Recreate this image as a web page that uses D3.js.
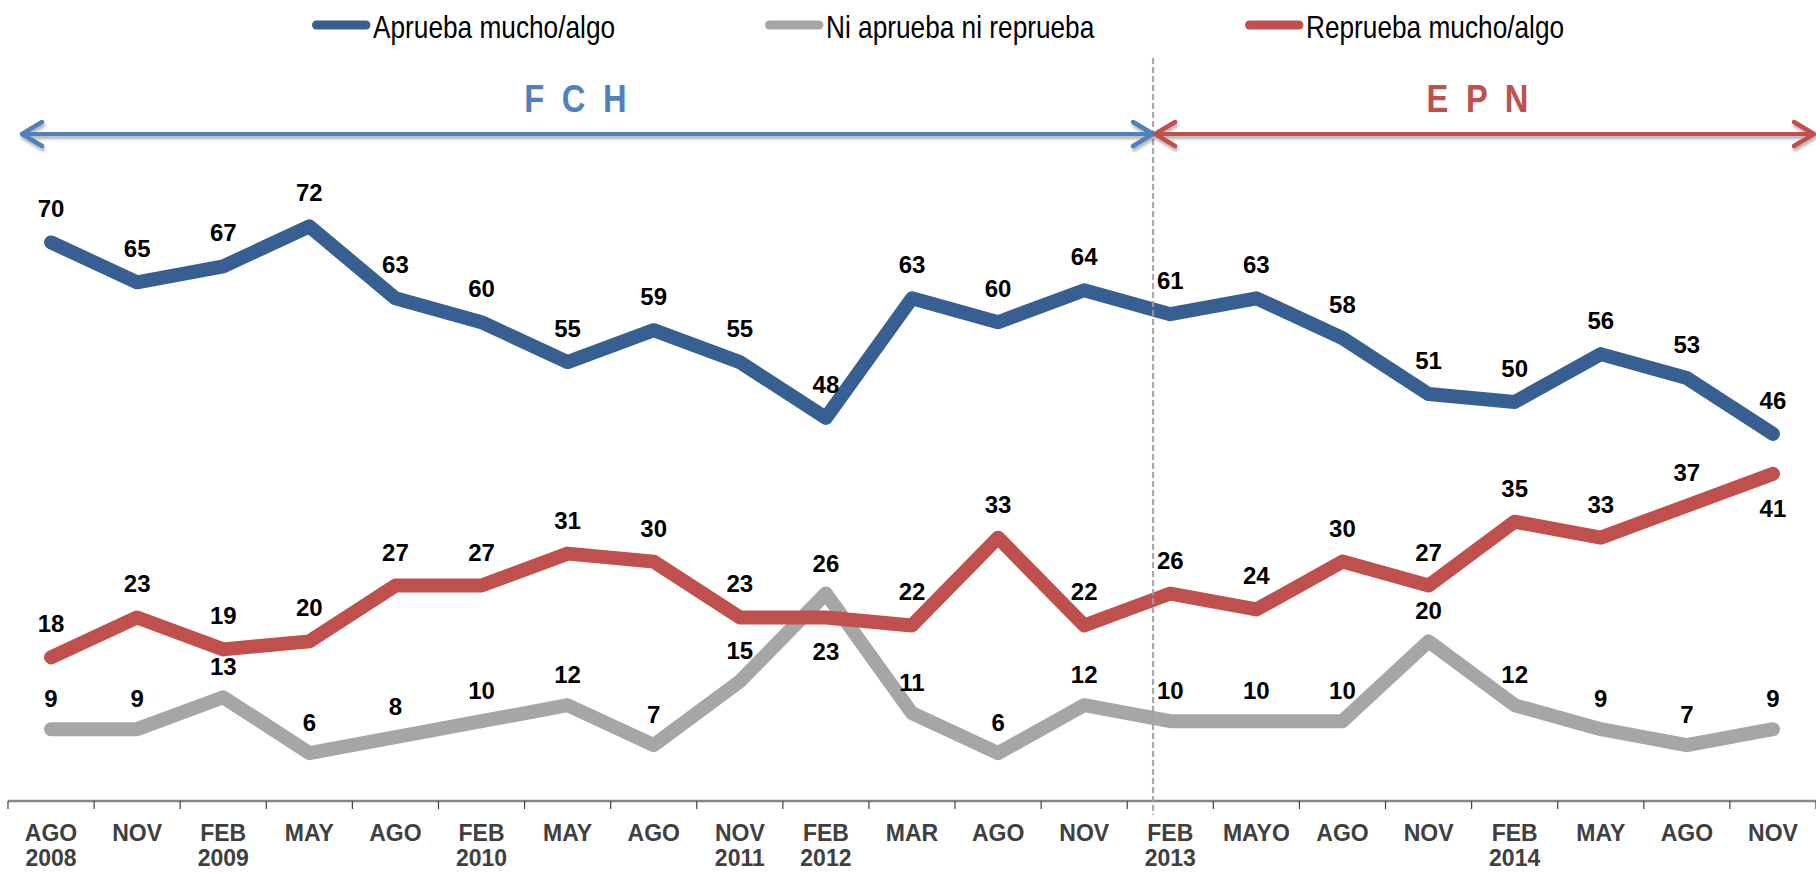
<!DOCTYPE html>
<html>
<head>
<meta charset="utf-8">
<script src="https://cdn.jsdelivr.net/npm/d3@7"></script>
<style>
  html, body { margin: 0; padding: 0; background: #fff; }
  svg { display: block; }
</style>
</head>
<body>
<svg id="chart" width="1816" height="872"></svg>
<script>
// ---------- data ----------
const categories = ["AGO 2008","NOV","FEB 2009","MAY","AGO","FEB 2010","MAY","AGO","NOV 2011","FEB 2012","MAR","AGO","NOV","FEB 2013","MAYO","AGO","NOV","FEB 2014","MAY","AGO","NOV"];
const aprueba   = [70,65,67,72,63,60,55,59,55,48,63,60,64,61,63,58,51,50,56,53,46];
const niNi      = [9,9,13,6,8,10,12,7,15,26,11,6,12,10,10,10,20,12,9,7,9];
const reprueba  = [18,23,19,20,27,27,31,30,23,23,22,33,22,26,24,30,27,35,33,37,41];
const seriesNames = ["Aprueba mucho/algo","Ni aprueba ni reprueba","Reprueba mucho/algo"];
const periods = ["F C H","E P N"];
const periodStart = 13; // index of FEB 2013
// label placement (below the point) for Reprueba
const repruebaBelow = [9, 20];

// ---------- setup ----------
const svg = d3.select("#chart");
const colors = ["#375F92", "#A6A6A6", "#C0504D"];
const arrowColors = ["#4F81BD", "#C0504D"];
const narrow = 0.82;

const x = d3.scaleBand().domain(d3.range(categories.length)).range([8, 1816]).padding(0);
const cx = i => x(i) + x.bandwidth() / 2;
const y = d3.scaleLinear().domain([0, 100]).range([801, 3]);

const defs = svg.append("defs");
const sh = defs.append("filter").attr("id", "shadow").attr("x", "-5%").attr("y", "-100%").attr("width", "110%").attr("height", "300%");
sh.append("feDropShadow").attr("dx", 1).attr("dy", 3).attr("stdDeviation", 1.6).attr("flood-color", "#000").attr("flood-opacity", 0.3);

// ---------- x axis ----------
const axisY = y(0);
const axisG = svg.append("g");
axisG.append("line")
  .attr("x1", x.range()[0]).attr("x2", x.range()[1])
  .attr("y1", axisY).attr("y2", axisY)
  .attr("stroke", "#868686").attr("stroke-width", 2.5);
const tickPos = d3.range(categories.length + 1).map(i => x.range()[0] + i * x.step());
axisG.selectAll("line.tick").data(tickPos).join("line").attr("class", "tick")
  .attr("x1", d => d).attr("x2", d => d)
  .attr("y1", axisY).attr("y2", axisY + 8)
  .attr("stroke", "#404040").attr("stroke-width", 1.2);
const lab = axisG.selectAll("text.cat").data(categories).join("text").attr("class", "cat")
  .attr("x", (d, i) => cx(i))
  .attr("text-anchor", "middle")
  .style("font-family", "'Liberation Sans', Arial, sans-serif")
  .style("font-weight", "bold")
  .style("font-size", "23px")
  .attr("fill", "#404040");
lab.each(function(d, i) {
  const parts = d.split(" ");
  const t = d3.select(this);
  t.append("tspan").attr("x", cx(i)).attr("y", 841).text(parts[0]);
  if (parts[1]) t.append("tspan").attr("x", cx(i)).attr("y", 866).text(parts[1]);
});

// ---------- lines ----------
const allSeries = [aprueba, niNi, reprueba];
const lineGen = d3.line().x((d, i) => cx(i)).y(d => y(d));
svg.append("g").selectAll("path").data(allSeries).join("path")
  .attr("d", d => lineGen(d))
  .attr("fill", "none")
  .attr("stroke", (d, i) => colors[i])
  .attr("stroke-width", 14)
  .attr("stroke-linejoin", "round")
  .attr("stroke-linecap", "round");

// ---------- divider ----------
const divX = cx(periodStart) - x.step() * 0.2;
svg.append("line")
  .attr("x1", divX).attr("x2", divX)
  .attr("y1", 58).attr("y2", axisY + 14)
  .attr("stroke", "#A0A0A0").attr("stroke-width", 2.2)
  .attr("stroke-dasharray", "6,3").attr("opacity", 0.9);

// ---------- data labels ----------
const labelG = svg.append("g")
  .style("font-family", "'Liberation Sans', Arial, sans-serif")
  .style("font-weight", "bold")
  .style("font-size", "24px")
  .attr("fill", "#000")
  .attr("text-anchor", "middle");
allSeries.forEach((s, si) => {
  labelG.selectAll(null).data(s).join("text")
    .attr("x", (d, i) => cx(i))
    .attr("y", (d, i) => {
      if (si === 2 && repruebaBelow.includes(i)) return y(d) + 43;
      return y(d) - (si === 1 ? 22 : 25);
    })
    .text(d => d);
});

// ---------- period arrows ----------
const arrowY = 134;
const arrows = [
  { x1: 22, x2: divX, color: arrowColors[0], label: periods[0] },
  { x1: divX + 2, x2: 1814, color: arrowColors[1], label: periods[1] }
];
const arrG = svg.append("g").attr("filter", "url(#shadow)");
arrows.forEach(a => {
  arrG.append("line").attr("x1", a.x1 + 2).attr("x2", a.x2 - 2).attr("y1", arrowY).attr("y2", arrowY)
    .attr("stroke", a.color).attr("stroke-width", 4);
  const head = (tip, dir) => `M${tip + dir * 20},${arrowY - 12} L${tip},${arrowY} L${tip + dir * 20},${arrowY + 12}`;
  arrG.append("path").attr("d", head(a.x1, 1)).attr("fill", "none")
    .attr("stroke", a.color).attr("stroke-width", 4.5).attr("stroke-linecap", "round").attr("stroke-linejoin", "round");
  arrG.append("path").attr("d", head(a.x2, -1)).attr("fill", "none")
    .attr("stroke", a.color).attr("stroke-width", 4.5).attr("stroke-linecap", "round").attr("stroke-linejoin", "round");
});
svg.append("g").selectAll("text").data(arrows).join("text")
  .attr("transform", (d, i) => `translate(${(d.x1 + d.x2) / 2 - (i === 0 ? 10 : 5)},112) scale(0.86,1)`)
  .attr("text-anchor", "middle")
  .style("font-family", "'Liberation Sans', Arial, sans-serif")
  .style("font-weight", "bold")
  .style("font-size", "38px")
  .style("letter-spacing", "5px")
  .attr("fill", d => d.color)
  .text(d => d.label);

// ---------- legend ----------
const legendX = [312, 765, 1245];
const leg = svg.append("g");
seriesNames.forEach((n, i) => {
  leg.append("line")
    .attr("x1", legendX[i] + 4.5).attr("x2", legendX[i] + 54)
    .attr("y1", 25).attr("y2", 25)
    .attr("stroke", colors[i]).attr("stroke-width", 9).attr("stroke-linecap", "round");
  leg.append("text")
    .attr("transform", `translate(${legendX[i] + 61},38) scale(${narrow},1)`)
    .style("font-family", "'Liberation Sans', Arial, sans-serif")
    .style("font-size", "32px")
    .attr("fill", "#000")
    .text(n);
});
</script>
</body>
</html>
